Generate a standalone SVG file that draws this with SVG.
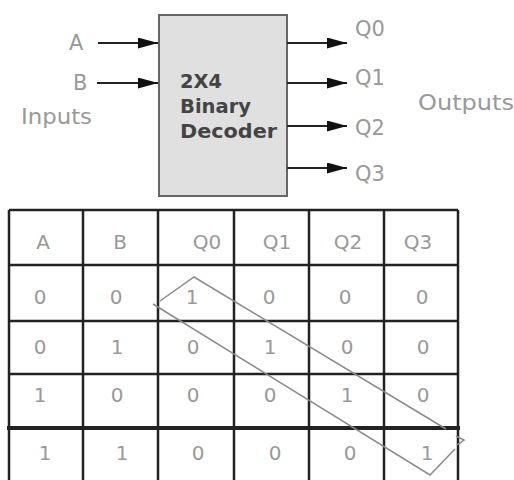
<svg xmlns="http://www.w3.org/2000/svg" width="514" height="480" viewBox="0 0 514 480">
<style>
.lbl{font-family:"DejaVu Sans",Verdana,sans-serif;fill:#999;font-size:21px}
.box{font-family:"DejaVu Sans",Verdana,sans-serif;fill:#444;font-size:19px;font-weight:bold}
.cell{font-family:"DejaVu Sans",Verdana,sans-serif;fill:#999;font-size:20px;text-anchor:middle}
.wire{stroke:#222;stroke-width:2;fill:none}
.grid{stroke:#222;stroke-width:2.5;fill:none}
.loop{stroke:#8a8a8a;stroke-width:1.5;fill:none}
</style>
<defs>
<marker id="ah" viewBox="0 0 20 11" refX="20" refY="5.5" markerWidth="20" markerHeight="11" markerUnits="userSpaceOnUse" orient="auto">
<path d="M0,0 L20,5.5 L0,11 z" fill="#111"/>
</marker>
</defs>
<rect width="514" height="480" fill="#fff"/>
<g id="decoder">
<rect x="159" y="15" width="128" height="181" fill="#e0e0e0" stroke="#666" stroke-width="2"/>
<text class="box" x="180" y="88" textLength="42" lengthAdjust="spacingAndGlyphs">2X4</text>
<text class="box" x="180" y="113" textLength="71" lengthAdjust="spacingAndGlyphs">Binary</text>
<text class="box" x="180" y="138" textLength="97" lengthAdjust="spacingAndGlyphs">Decoder</text>
</g>
<g id="labels">
<text class="lbl" x="69" y="50">A</text>
<text class="lbl" x="73" y="90">B</text>
<text class="lbl" x="21" y="124" textLength="71" lengthAdjust="spacingAndGlyphs">Inputs</text>
<text class="lbl" x="355" y="36">Q0</text>
<text class="lbl" x="355" y="85">Q1</text>
<text class="lbl" x="355" y="135">Q2</text>
<text class="lbl" x="355" y="181">Q3</text>
<text class="lbl" x="418" y="110" textLength="96" lengthAdjust="spacingAndGlyphs">Outputs</text>
</g>
<g id="connectors">
<line class="wire" x1="98" y1="43" x2="158" y2="43" marker-end="url(#ah)"/>
<line class="wire" x1="97" y1="83" x2="158" y2="83" marker-end="url(#ah)"/>
<line class="wire" x1="287" y1="43" x2="347" y2="43" marker-end="url(#ah)"/>
<line class="wire" x1="287" y1="83" x2="347" y2="83" marker-end="url(#ah)"/>
<line class="wire" x1="287" y1="126" x2="347" y2="126" marker-end="url(#ah)"/>
<line class="wire" x1="287" y1="168" x2="347" y2="168" marker-end="url(#ah)"/>
</g>
<g id="table">
<path class="grid" d="M9,210 H458 M9,265 H458 M9,321 H458 M9,374 H458 M9,210 V480 M83,210 V480 M158,210 V480 M234,210 V480 M309,210 V480 M384,210 V480 M458,210 V480"/>
<line x1="7" y1="428" x2="460" y2="428" stroke="#222" stroke-width="4"/>
<text class="cell" x="43" y="249">A</text>
<text class="cell" x="120" y="249">B</text>
<text class="cell" x="207" y="249">Q0</text>
<text class="cell" x="277" y="249">Q1</text>
<text class="cell" x="348" y="249">Q2</text>
<text class="cell" x="418" y="249">Q3</text>
<text class="cell" x="40" y="304">0</text>
<text class="cell" x="116" y="304">0</text>
<text class="cell" x="192" y="304">1</text>
<text class="cell" x="269" y="304">0</text>
<text class="cell" x="345" y="304">0</text>
<text class="cell" x="422" y="304">0</text>
<text class="cell" x="40" y="354">0</text>
<text class="cell" x="117" y="354">1</text>
<text class="cell" x="193" y="354">0</text>
<text class="cell" x="270" y="354">1</text>
<text class="cell" x="347" y="354">0</text>
<text class="cell" x="423" y="354">0</text>
<text class="cell" x="40" y="402">1</text>
<text class="cell" x="117" y="402">0</text>
<text class="cell" x="193" y="402">0</text>
<text class="cell" x="270" y="402">0</text>
<text class="cell" x="347" y="402">1</text>
<text class="cell" x="423" y="402">0</text>
<text class="cell" x="45" y="460">1</text>
<text class="cell" x="122" y="460">1</text>
<text class="cell" x="198" y="460">0</text>
<text class="cell" x="275" y="460">0</text>
<text class="cell" x="350" y="460">0</text>
<text class="cell" x="427" y="460">1</text>
</g>
<g id="diagonal">
<path class="loop" d="M160,301 L194,277 L446,429 M153,304 L430,475 L455,449 M456,436 L464,440 L457,445"/>
</g>
</svg>
